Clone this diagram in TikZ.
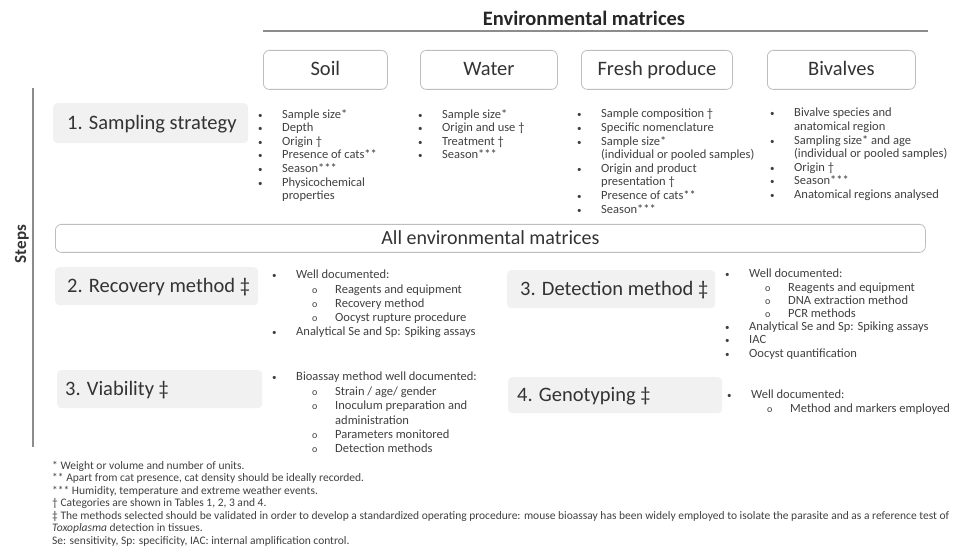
\documentclass[tikz,border=0pt]{standalone}
\usepackage{fontspec}
\setmainfont{Carlito}
\definecolor{boxline}{HTML}{BDBDBD}
\definecolor{stepfill}{HTML}{F1F1F1}
\definecolor{steptext}{HTML}{333333}
\definecolor{listtext}{HTML}{404040}
\definecolor{ruleline}{HTML}{8C8C8C}
% list helpers: main bullet, continuation indent, sub-bullet
\newcommand\lbul{\makebox[24pt][l]{\fontsize{9}{9}\selectfont\textbullet}}
\newcommand\lcont{\hspace*{24pt}}
\newcommand\lsub{\hspace*{40pt}\makebox[23pt][l]{\fontsize{10}{10}\selectfont o}}
\newcommand\lsubcont{\hspace*{63pt}}
\begin{document}
\begin{tikzpicture}[x=1pt,y=-1pt,
  matrixbox/.style={draw=boxline, line width=0.8pt, rounded corners=6pt, fill=white,
    font=\fontsize{20.5}{24}\selectfont, text=steptext, inner sep=0pt,
    text height=15pt, text depth=3pt},
  stepbox/.style={fill=stepfill, rounded corners=4pt, inner sep=0pt, anchor=north west},
  steplabel/.style={font=\fontsize{20.5}{24}\selectfont, text=steptext, inner sep=0pt,
    anchor=base west},
  listnode/.style={anchor=north west, inner sep=0pt, align=left, text=listtext,
    font=\fontsize{12.5}{13.6}\selectfont},
  notes/.style={anchor=north west, inner sep=0pt, align=left, text=listtext,
    font=\fontsize{11.5}{12.5}\selectfont}]
\useasboundingbox (0,0) rectangle (954,548);

% header
\node[font=\bfseries\fontsize{20.5}{24}\selectfont, text=black!85] (title) at (584,18) {Environmental matrices};
\coordinate (ruleL) at (263,31);
\coordinate (ruleR) at (928,31);
\draw[ruleline, line width=2pt] (ruleL) -- (ruleR);

\node[matrixbox, minimum width=124, minimum height=39, anchor=north west] (soil) at (263,50) {Soil};
\node[matrixbox, minimum width=137, minimum height=39, anchor=north west] (water) at (420,50) {Water};
\node[matrixbox, minimum width=151, minimum height=39, anchor=north west] (fresh) at (581,50) {Fresh produce};
\node[matrixbox, minimum width=148, minimum height=39, anchor=north west] (biv) at (767,50) {Bivalves};

% steps axis
\coordinate (axisT) at (33,88);
\coordinate (axisB) at (33,447);
\draw[ruleline, line width=1.6pt] (axisT) -- (axisB);
\node[rotate=90, font=\bfseries\fontsize{17}{20}\selectfont, text=steptext] (steps) at (22,244) {Steps};

% 1. sampling strategy
\node[stepbox, minimum width=195, minimum height=40] (s1) at (53,103) {};
\node[steplabel] (s1t) at ([xshift=14pt, yshift=-6.5pt]s1.west) {1. Sampling strategy};

\node[listnode] (soilL) at (258,109) {%
\lbul Sample size*\\ \lbul Depth\\ \lbul Origin †\\ \lbul Presence of cats**\\ \lbul Season***\\
\lbul Physicochemical\\ \lcont properties};
\node[listnode] (waterL) at (418,109) {%
\lbul Sample size*\\ \lbul Origin and use †\\ \lbul Treatment †\\ \lbul Season***};
\node[listnode] (freshL) at (577,109) {%
\lbul Sample composition †\\ \lbul Specific nomenclature\\ \lbul Sample size*\\
\lcont (individual or pooled samples)\\ \lbul Origin and product\\ \lcont presentation †\\
\lbul Presence of cats**\\ \lbul Season***};
\node[listnode] (bivL) at (770,108) {%
\lbul Bivalve species and\\ \lcont anatomical region\\ \lbul Sampling size* and age\\
\lcont (individual or pooled samples)\\ \lbul Origin †\\ \lbul Season***\\
\lbul Anatomical regions analysed};

% all matrices band
\node[matrixbox, font=\fontsize{20}{24}\selectfont, minimum width=870, minimum height=28, anchor=north west] (all) at (55,224) {All environmental matrices};

% 2. recovery method
\node[stepbox, minimum width=203, minimum height=38] (s2) at (55,267) {};
\node[steplabel] (s2t) at ([xshift=12pt, yshift=-6.5pt]s2.west) {2. Recovery method ‡};
\node[listnode, font=\fontsize{12.5}{14.2}\selectfont] (recL) at (272,270) {%
\lbul Well documented:\\ \lsub Reagents and equipment\\ \lsub Recovery method\\
\lsub Oocyst rupture procedure\\ \lbul Analytical Se and Sp: Spiking assays};

% 3. detection method
\node[stepbox, minimum width=208, minimum height=38] (s3) at (507,270) {};
\node[steplabel] (s3t) at ([xshift=13pt, yshift=-6.5pt]s3.west) {3. Detection method ‡};
\node[listnode, font=\fontsize{12.5}{13.2}\selectfont] (detL) at (725,269) {%
\lbul Well documented:\\ \lsub Reagents and equipment\\ \lsub DNA extraction method\\
\lsub PCR methods\\ \lbul Analytical Se and Sp: Spiking assays\\ \lbul IAC\\
\lbul Oocyst quantification};

% 3. viability
\node[stepbox, minimum width=205, minimum height=38] (s3v) at (57,370) {};
\node[steplabel] (s3vt) at ([xshift=8pt, yshift=-6.5pt]s3v.west) {3. Viability ‡};
\node[listnode, font=\fontsize{12.5}{14.4}\selectfont] (viaL) at (272,372) {%
\lbul Bioassay method well documented:\\ \lsub Strain / age/ gender\\
\lsub Inoculum preparation and\\ \lsubcont administration\\ \lsub Parameters monitored\\
\lsub Detection methods};

% 4. genotyping
\node[stepbox, minimum width=214, minimum height=36] (s4) at (508,377) {};
\node[steplabel] (s4t) at ([xshift=9pt, yshift=-6.5pt]s4.west) {4. Genotyping ‡};
\node[listnode, font=\fontsize{12.5}{13.2}\selectfont] (genL) at (727,390) {%
\lbul Well documented:\\ \lsub Method and markers employed};

% footnotes
\node[notes] (fn) at (52,461) {%
* Weight or volume and number of units.\\
** Apart from cat presence, cat density should be ideally recorded.\\
*** Humidity, temperature and extreme weather events.\\
† Categories are shown in Tables 1, 2, 3 and 4.\\
‡ The methods selected should be validated in order to develop a standardized operating procedure: mouse bioassay has been widely employed to isolate the parasite and as a reference test of\\
\textit{Toxoplasma} detection in tissues.\\
Se: sensitivity, Sp: specificity, IAC: internal amplification control.};
\end{tikzpicture}
\end{document}
